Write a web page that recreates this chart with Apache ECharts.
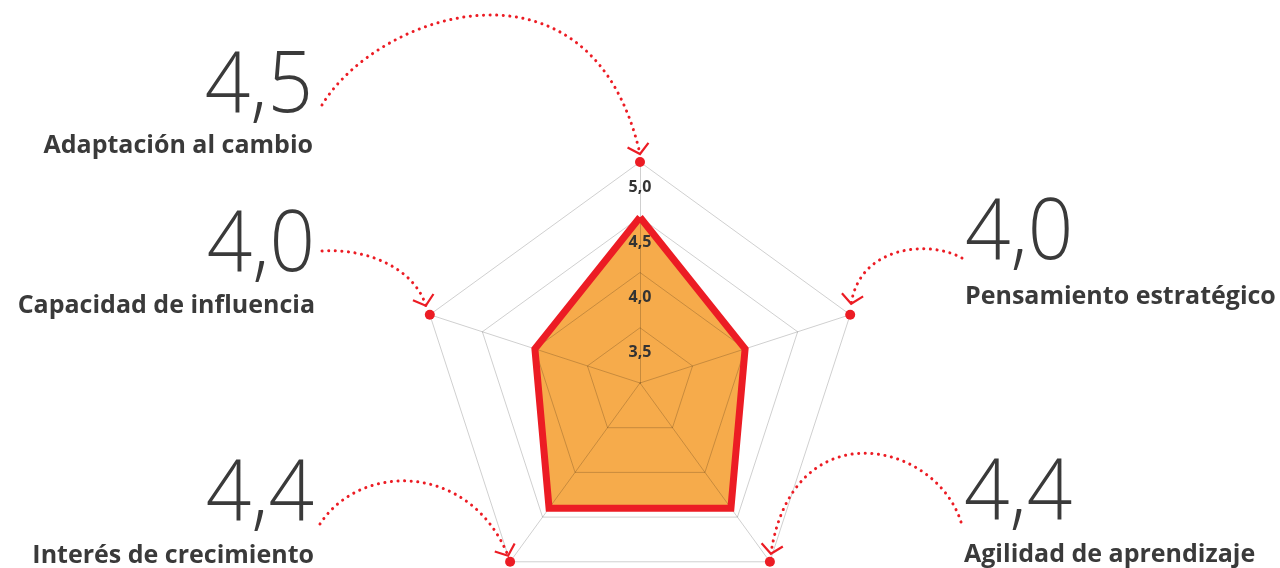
<!DOCTYPE html>
<html><head><meta charset="utf-8">
<script src="https://cdn.jsdelivr.net/npm/echarts@6/dist/echarts.min.js"></script>
<style>html,body{margin:0;padding:0;background:#fff}#c{width:1280px;height:568px}</style>
</head><body><div id="c"></div>
<script>
// ---- data ----
const indicators = ['Adaptación al cambio', 'Capacidad de influencia', 'Interés de crecimiento', 'Agilidad de aprendizaje', 'Pensamiento estratégico'];
const scores = [4.5, 4.0, 4.4, 4.4, 4.0];
const scaleMin = 3;
const scaleMax = 5;

// ---- layout (positions only) ----
const CX = 640, CY = 383, R = 221;
const RED = '#EC1C24', TXT = '#3a3a3a';
const layout = [
  { align: 'right', x: 313, numY: 88,  nameY: 146, p0: [322, 105], c1: [378, 12],  c2: [592, -58], tip: [0, -8] },
  { align: 'right', x: 315, numY: 247, nameY: 306, p0: [322, 251], c1: [370, 248], c2: [415, 270], tip: [-4, -9] },
  { align: 'right', x: 314, numY: 496, nameY: 556, p0: [320, 524], c1: [360, 462], c2: [470, 462], tip: [-2, -6] },
  { align: 'left',  x: 964, numY: 495, nameY: 555, p0: [961, 522], c1: [935, 440], c2: [792, 410], tip: [1, -8] },
  { align: 'left',  x: 965, numY: 235, nameY: 297, p0: [962, 258], c1: [930, 240], c2: [860, 245], tip: [1, -11] }
];

const fmt = v => v.toFixed(1).replace('.', ',');

function vertex(i) {
  const a = (90 + i * 72) * Math.PI / 180;
  return [CX + R * Math.cos(a), CY - R * Math.sin(a)];
}

const graphics = [];
indicators.forEach((name, i) => {
  const L = layout[i];
  graphics.push({
    type: 'text', x: L.x, y: L.numY, z: 10, scaleX: 0.95,
    style: { text: fmt(scores[i]), fill: TXT, fontFamily: 'Open Sans', fontWeight: 300, fontSize: 84, align: L.align, verticalAlign: 'middle' }
  });
  graphics.push({
    type: 'text', x: L.x, y: L.nameY, z: 10,
    style: { text: name, fill: TXT, fontFamily: 'Open Sans', fontWeight: 'bold', fontSize: 25, align: L.align, verticalAlign: 'middle' }
  });
  const v = vertex(i);
  const end = [v[0] + L.tip[0], v[1] + L.tip[1]];
  graphics.push({
    type: 'bezierCurve', z: 10,
    shape: { x1: L.p0[0], y1: L.p0[1], cpx1: L.c1[0], cpy1: L.c1[1], cpx2: L.c2[0], cpy2: L.c2[1], x2: end[0], y2: end[1] },
    style: { stroke: RED, lineWidth: 3, lineDash: [0.1, 6.5], lineCap: 'round', fill: null }
  });
  let dx = end[0] - L.c2[0], dy = end[1] - L.c2[1];
  const len = Math.hypot(dx, dy); dx /= len; dy /= len;
  const arm = 14, ang = 50 * Math.PI / 180;
  const rot = (x, y, t) => [x * Math.cos(t) - y * Math.sin(t), x * Math.sin(t) + y * Math.cos(t)];
  const a1 = rot(-dx, -dy, ang), a2 = rot(-dx, -dy, -ang);
  graphics.push({
    type: 'polyline', z: 10,
    shape: { points: [[end[0] + a1[0] * arm, end[1] + a1[1] * arm], end, [end[0] + a2[0] * arm, end[1] + a2[1] * arm]] },
    style: { stroke: RED, lineWidth: 2.2, fill: null }
  });
});

const chart = echarts.init(document.getElementById('c'), null, { renderer: 'canvas' });
chart.setOption({
  animation: false,
  backgroundColor: '#fff',
  radar: {
    center: [CX, CY], radius: R, startAngle: 90, splitNumber: 4, shape: 'polygon', z: 2,
    indicator: indicators.map((n, i) => {
      const o = { name: n, min: scaleMin, max: scaleMax };
      if (i === 0) {
        o.axisLabel = {
          show: true, showMinLabel: false, showMaxLabel: true, hideOverlap: false, margin: 0, align: 'center', verticalAlign: 'top',
          lineHeight: 50, color: '#333', fontFamily: 'Open Sans', fontWeight: 'bold', fontSize: 16,
          formatter: v => fmt(v)
        };
      }
      return o;
    }),
    axisName: { show: false },
    axisLine: { lineStyle: { color: 'rgba(0,0,0,0.19)', width: 1 } },
    splitLine: { lineStyle: { color: 'rgba(0,0,0,0.19)', width: 1 } },
    splitArea: { show: false },
    axisTick: { show: false },
    axisLabel: { show: false }
  },
  series: [
    { type: 'radar', z: 1, silent: true, symbol: 'none', data: [{ value: scores }],
      lineStyle: { width: 0, opacity: 0 }, areaStyle: { color: '#F6AB4B', opacity: 1 } },
    { type: 'radar', z: 3, silent: true, symbol: 'none', data: [{ value: scores }],
      lineStyle: { color: RED, width: 7, join: 'miter' } },
    { type: 'radar', z: 4, silent: true, symbol: 'circle', symbolSize: 10, data: [{ value: indicators.map(() => scaleMax) }],
      itemStyle: { color: RED }, lineStyle: { opacity: 0, width: 0 } }
  ],
  graphic: graphics
});
</script></body></html>
